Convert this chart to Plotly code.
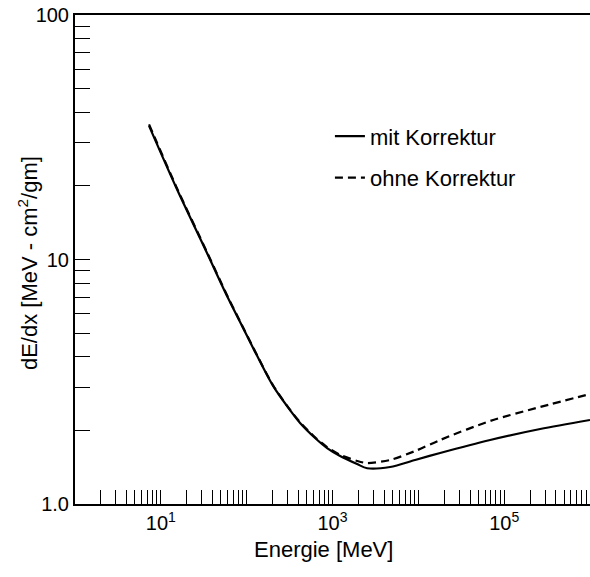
import plotly.graph_objects as go

# Energy (MeV) and dE/dx (MeV cm^2/gm)
energy_mit = [7.29, 15.0, 34.5, 59.1, 83.8, 118.8, 203, 320, 419, 627, 865, 1226, 1935, 2531, 4692, 9180, 17950, 68700, 263000, 1000000]
dedx_mit = [35.2, 19.8, 10.63, 7.09, 5.55, 4.35, 3.04, 2.42, 2.145, 1.862, 1.694, 1.572, 1.457, 1.40, 1.417, 1.514, 1.617, 1.827, 2.026, 2.206]

energy_ohne = [7.29, 15.0, 34.5, 59.1, 83.8, 118.8, 203, 320, 419, 627, 865, 1226, 1935, 2531, 4692, 9180, 17950, 68700, 263000, 1000000]
dedx_ohne = [35.7, 20.0, 10.72, 7.14, 5.58, 4.37, 3.06, 2.43, 2.16, 1.875, 1.71, 1.59, 1.50, 1.471, 1.514, 1.647, 1.827, 2.186, 2.493, 2.818]

x_major = [10, 1000, 100000]
x_major_text = ["10<sup>1</sup>", "10<sup>3</sup>", "10<sup>5</sup>"]
y_major = [1, 10, 100]
y_major_text = ["1.0", "10", "100"]

legend_names = ["mit Korrektur", "ohne Korrektur"]

# minor tick positions (mantissas 1..9 in each decade, minus the labelled ones)
x_minor = [m * 10 ** k for k in range(0, 6) for m in range(1, 10) if m * 10 ** k not in x_major]
y_minor = [m * 10 ** k for k in range(0, 2) for m in range(2, 10)]

font = "Liberation Sans, Arial, sans-serif"

fig = go.Figure()
fig.add_trace(go.Scatter(x=energy_mit, y=dedx_mit, mode="lines", name=legend_names[0],
                         legendgroup="a", line=dict(color="black", width=2.2, shape="spline", smoothing=0.8)))
fig.add_trace(go.Scatter(x=energy_ohne, y=dedx_ohne, mode="lines", name=legend_names[1],
                         legendgroup="b", line=dict(color="black", width=2.2, dash="8px,5px",
                                                    shape="spline", smoothing=0.8)))

fig.update_layout(
    width=590, height=577,
    margin=dict(l=75, r=0, t=15, b=73),
    paper_bgcolor="white", plot_bgcolor="white",
    font=dict(family=font, size=20, color="black"),
    showlegend=True,
    legend=dict(x=0.495, y=0.795, xanchor="left", yanchor="top", bgcolor="rgba(0,0,0,0)",
                font=dict(size=22), tracegroupgap=10, itemwidth=30, traceorder="grouped"),
    xaxis=dict(type="log", range=[0, 6], showgrid=False, zeroline=False,
               showline=True, linecolor="black", linewidth=2, mirror=True,
               ticks="inside", ticklen=14, tickwidth=1.3, tickcolor="black",
               tickmode="array", tickvals=x_major, ticktext=x_major_text,
               tickfont=dict(size=20),
               minor=dict(tickmode="array", tickvals=x_minor, ticks="inside", ticklen=14,
                          tickwidth=1.3, tickcolor="black", showgrid=False)),
    yaxis=dict(type="log", range=[0, 2], showgrid=False, zeroline=False,
               showline=True, linecolor="black", linewidth=2,
               ticks="inside", ticklen=15, tickwidth=1.3, tickcolor="black",
               tickmode="array", tickvals=y_major, ticktext=y_major_text,
               tickfont=dict(size=20),
               minor=dict(tickmode="array", tickvals=y_minor, ticks="inside", ticklen=15,
                          tickwidth=1.3, tickcolor="black", showgrid=False)),
)

fig.add_annotation(text="Energie [MeV]", xref="paper", yref="paper", x=0.482, y=-0.094,
                   showarrow=False, xanchor="center", yanchor="middle", font=dict(size=22))
fig.add_annotation(text="dE/dx [MeV - cm<sup>2</sup>/gm]", xref="paper", yref="paper",
                   x=-0.091, y=0.493, textangle=-90, showarrow=False,
                   xanchor="center", yanchor="middle", font=dict(size=22))

fig.write_html("out.html")
